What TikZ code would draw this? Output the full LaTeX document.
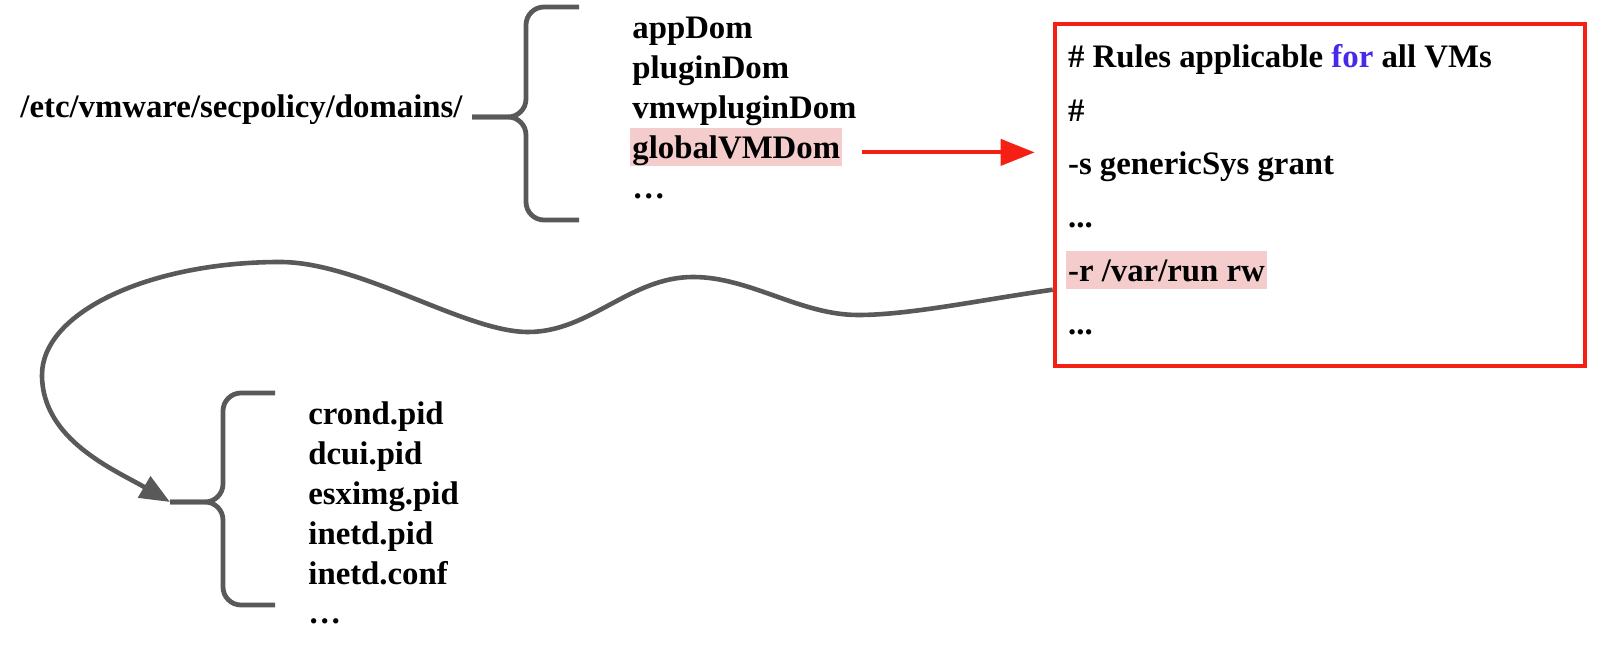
\documentclass[tikz,border=0pt]{standalone}
\usepackage{fontspec}
\setmainfont{Liberation Serif}
\usetikzlibrary{positioning, arrows.meta, calc}

\definecolor{braceGray}{RGB}{89,89,89}
\definecolor{ruleRed}{RGB}{245,32,20}
\definecolor{markPink}{RGB}{244,204,204}
\definecolor{forBlue}{RGB}{74,40,235}

\begin{document}
\begin{tikzpicture}[
        x=0.5pt, y=-0.5pt,
        % Styles
        entry/.style={font=\fontsize{16.4pt}{19.5pt}\selectfont\bfseries, inner xsep=1pt, inner ysep=0pt, text height=15pt, text depth=4pt},
        marked/.style={entry, fill=markPink},
        rules_box/.style={draw=ruleRed, line width=2.3pt, minimum width=265pt, minimum height=171pt},
        brace_line/.style={draw=braceGray, line width=2.4pt, rounded corners=9pt},
        red_arrow/.style={-{Triangle[length=17pt, width=13pt]}, line width=2pt, draw=ruleRed},
        wave_arrow/.style={-{Triangle[length=15pt, width=12pt]}, line width=2.3pt, draw=braceGray}
    ]
    \useasboundingbox (0,0) rectangle (1606,651);

    % Domain directory and its brace
    \node[entry, anchor=base west] (secdir) at (18,118) {/etc/vmware/secpolicy/domains/};
    \coordinate (domtip) at (472,117);
    \draw[brace_line] (579,7) -- (526,7) -- (526,117) -- (domtip);
    \draw[brace_line] (579,220) -- (526,220) -- (526,117) -- (domtip);

    % Domain list
    \node[entry, anchor=base west] (app) at (630,39) {appDom};
    \node[entry, below right=0.5pt and 0pt of app.south west] (plugin) {pluginDom};
    \node[entry, below right=0.5pt and 0pt of plugin.south west] (vmwplugin) {vmwpluginDom};
    \node[marked, below right=0.5pt and 0pt of vmwplugin.south west] (glob) {globalVMDom};
    \node[entry, below right=0.5pt and 0pt of glob.south west] (domdots) {…};

    % Rules of globalVMDom
    \node[rules_box] (rules) at (1320,195) {};
    \node[entry, anchor=base west] (r1) at ([shift={(13,46)}]rules.north west) {\# Rules applicable {\color{forBlue}for} all VMs};
    \node[entry, below right=7.3pt and 0pt of r1.south west] (r2) {\#};
    \node[entry, below right=7.3pt and 0pt of r2.south west] (r3) {-s genericSys grant};
    \node[entry, below right=7.3pt and 0pt of r3.south west] (r4) {...};
    \node[marked, below right=7.3pt and 0pt of r4.south west] (r5) {-r /var/run rw};
    \node[entry, below right=7.3pt and 0pt of r5.south west] (r6) {...};

    \coordinate (globout) at ([yshift=-2.5pt]glob.east);
    \draw[red_arrow, shorten <=9.5pt, shorten >=9pt] (globout) -- (globout -| rules.west);

    % /var/run list and its brace
    \coordinate (logtip) at (170,502);
    \draw[brace_line] (275,393) -- (223,393) -- (223,502) -- (logtip);
    \draw[brace_line] (275,605) -- (223,605) -- (223,502) -- (logtip);

    \node[entry, anchor=base west] (crond) at (306,425) {crond.pid};
    \node[entry, below right=0.5pt and 0pt of crond.south west] (dcui) {dcui.pid};
    \node[entry, below right=0.5pt and 0pt of dcui.south west] (esximg) {esximg.pid};
    \node[entry, below right=0.5pt and 0pt of esximg.south west] (inetdpid) {inetd.pid};
    \node[entry, below right=0.5pt and 0pt of inetdpid.south west] (inetdconf) {inetd.conf};
    \node[entry, below right=0.5pt and 0pt of inetdconf.south west] (rundots) {…};

    % Wavy link from the rule to the run directory
    \coordinate (waveout) at (rules.west |- r5.south);
    \draw[wave_arrow] (waveout) .. controls (980,300) and (910,315) .. (858,315)
        .. controls (800,315) and (750,277) .. (693,277)
        .. controls (630,277) and (590,332) .. (528,332)
        .. controls (465,332) and (360,262) .. (280,262)
        .. controls (150,262) and (42,312) .. (42,375)
        .. controls (42,440) and (115,470) .. (logtip);

\end{tikzpicture}
\end{document}
